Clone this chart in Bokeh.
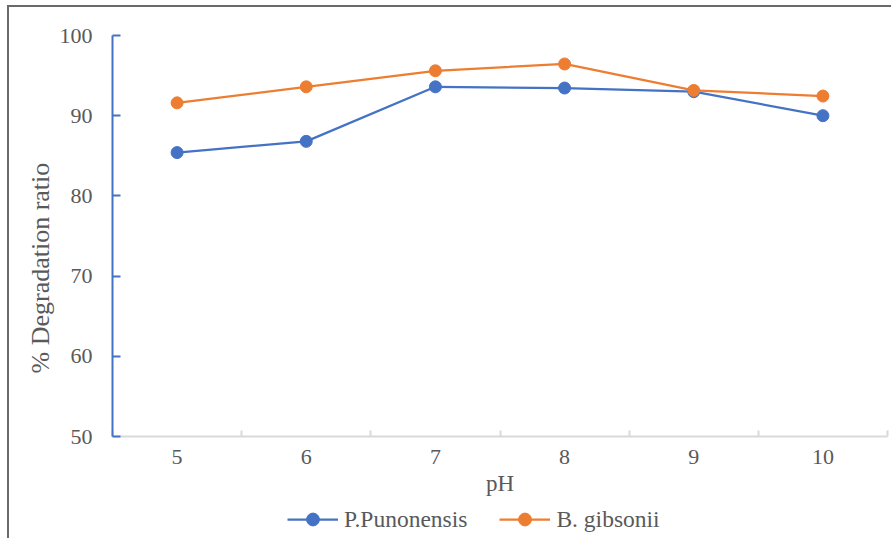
from bokeh.plotting import figure
from bokeh.layouts import column
from bokeh.models import FixedTicker, Legend, LegendItem, Range1d, Title
from bokeh.embed import file_html
from bokeh.resources import INLINE

# pH levels tested and the degradation ratio (%) reached by each strain
ph = [5, 6, 7, 8, 9, 10]
p_punonensis = [85.4, 86.8, 93.6, 93.45, 93.0, 90.0]
b_gibsonii = [91.6, 93.6, 95.6, 96.45, 93.15, 92.45]
series_names = ["P.Punonensis", "B. gibsonii"]
y_ticks = [50, 60, 70, 80, 90, 100]
x_boundaries = [4.5, 5.5, 6.5, 7.5, 8.5, 9.5, 10.5]

BLUE = "#4472C4"
ORANGE = "#ED7D31"
TEXT = "#595959"
FONT = "Liberation Serif"
EDGE = "linear-gradient(#6a6a6a, #6a6a6a)"

# ---- main chart -------------------------------------------------------------
p = figure(width=891, height=504, output_backend="svg", toolbar_location=None,
           x_range=Range1d(4.5, 10.5), y_range=Range1d(50, 100),
           min_border_left=112, min_border_right=4,
           min_border_top=35, min_border_bottom=68,
           styles={"background": f"{EDGE} 7px 5px / 2px 100% no-repeat, "
                                 f"{EDGE} 7px 5px / 100% 2px no-repeat, white"})
p.outline_line_color = None
p.grid.visible = False
p.background_fill_color = "white"
p.border_fill_alpha = 0

p.line(ph, p_punonensis, line_color=BLUE, line_width=2.25)
p.scatter(ph, p_punonensis, size=12, fill_color=BLUE, line_color=BLUE)
p.line(ph, b_gibsonii, line_color=ORANGE, line_width=2.25)
p.scatter(ph, b_gibsonii, size=12, fill_color=ORANGE, line_color=ORANGE)

# x axis: labels at each pH, tick marks between categories
xa = p.xaxis[0]
xa.ticker = FixedTicker(ticks=ph, minor_ticks=x_boundaries)
xa.axis_label = "pH"
xa.axis_line_color = "#D9D9D9"
xa.axis_line_width = 2
xa.major_tick_in = 0
xa.major_tick_out = 0
xa.minor_tick_in = 6
xa.minor_tick_out = 0
xa.minor_tick_line_color = "#D9D9D9"
xa.minor_tick_line_width = 2
xa.major_label_standoff = 13
xa.major_label_text_font = FONT
xa.major_label_text_font_size = "22px"
xa.major_label_text_color = TEXT
xa.axis_label_standoff = 4
xa.axis_label_text_font = FONT
xa.axis_label_text_font_size = "23px"
xa.axis_label_text_font_style = "normal"
xa.axis_label_text_color = TEXT

# y axis
ya = p.yaxis[0]
ya.ticker = FixedTicker(ticks=y_ticks)
ya.axis_line_color = BLUE
ya.axis_line_width = 2
ya.major_tick_in = 8
ya.major_tick_out = 0
ya.major_tick_line_color = BLUE
ya.major_tick_line_width = 2
ya.minor_tick_line_color = None
ya.major_label_standoff = 20
ya.major_label_text_font = FONT
ya.major_label_text_font_size = "22px"
ya.major_label_text_color = TEXT

# y title, set a little below the middle of the axis
p.add_layout(Title(text="% Degradation ratio", align="left", offset=63,
                   standoff=4, text_font=FONT, text_font_size="26px",
                   text_font_style="normal", text_color=TEXT), "left")

# ---- legend strip under the chart ---------------------------------------------
# the series are repeated here (outside the strip's visible range) so that the
# legend keys are drawn with the same line and marker styles
lg = figure(width=891, height=34, output_backend="svg", toolbar_location=None,
            x_range=Range1d(0, 891), y_range=Range1d(0, 34),
            x_axis_location=None, y_axis_location=None,
            min_border_left=0, min_border_right=0,
            min_border_top=0, min_border_bottom=0,
            styles={"background": f"{EDGE} 7px 0px / 2px 100% no-repeat, white"})
lg.outline_line_color = None
lg.grid.visible = False
lg.background_fill_alpha = 0
lg.border_fill_alpha = 0

key_blue = [lg.line(ph, p_punonensis, line_color=BLUE, line_width=2.25),
            lg.scatter(ph, p_punonensis, size=12, fill_color=BLUE, line_color=BLUE)]
key_orange = [lg.line(ph, b_gibsonii, line_color=ORANGE, line_width=2.25),
              lg.scatter(ph, b_gibsonii, size=12, fill_color=ORANGE, line_color=ORANGE)]

legend = Legend(items=[LegendItem(label=series_names[0], renderers=key_blue),
                       LegendItem(label=series_names[1], renderers=key_orange)],
                orientation="horizontal", location=(175, 3),
                glyph_width=51, glyph_height=32, label_standoff=6, spacing=32,
                padding=0, margin=0, border_line_color=None,
                background_fill_alpha=0,
                label_text_font=FONT, label_text_font_size="23.5px",
                label_text_color=TEXT)
lg.add_layout(legend, "center")

page = column(p, lg, spacing=0)
open("out.html", "w").write(file_html(page, INLINE))
